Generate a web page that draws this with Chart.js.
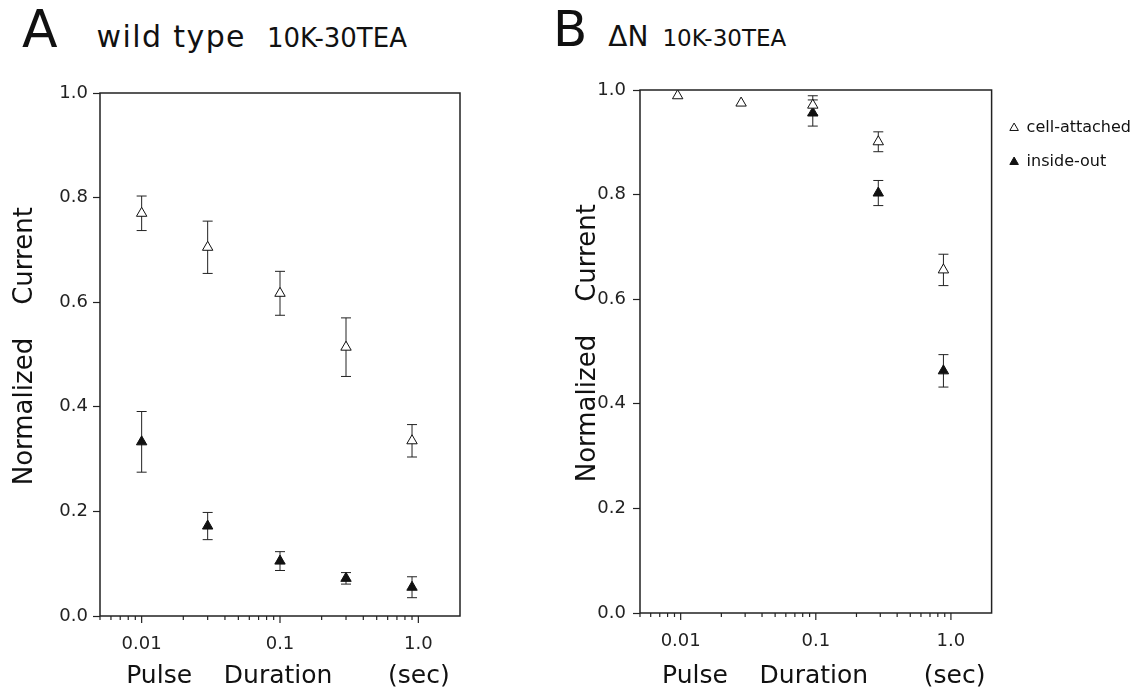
<!DOCTYPE html>
<html>
<head>
<meta charset="utf-8">
<script src="https://cdn.jsdelivr.net/npm/chart.js@4.4.1/dist/chart.umd.min.js"></script>
<style>
  body { margin: 0; background: #fff; width: 1141px; height: 693px; overflow: hidden; position: relative;
         font-family: "DejaVu Sans", sans-serif; color: #111; }
  canvas { position: absolute; top: 0; }
  .head { position: absolute; top: -1px; height: 60px; line-height: 60px; white-space: pre; }
</style>
</head>
<body>
<div class="head" style="left:22px;font-size:52px">A<span style="font-size:30px;letter-spacing:1.4px;margin-left:39px">wild type</span><span style="font-size:26px;margin-left:21px">10K-30TEA</span></div>
<div class="head" style="left:553px;font-size:50px">B<span style="font-size:28px;margin-left:21px">ΔN</span><span style="font-size:23px;margin-left:14px">10K-30TEA</span></div>
<canvas id="chartA" width="540" height="693" style="left:0"></canvas>
<canvas id="chartB" width="601" height="693" style="left:540px"></canvas>
<script>
// Panel A: wild type
const durationsA = [0.01, 0.03, 0.1, 0.3, 0.9];
const cellAttachedA = [0.77, 0.705, 0.617, 0.514, 0.335];
const cellAttachedErrA = [0.033, 0.05, 0.042, 0.056, 0.031];
const insideOutA = [0.333, 0.172, 0.105, 0.072, 0.055];
const insideOutErrA = [0.058, 0.026, 0.018, 0.011, 0.02];

// Panel B: delta N
const durationsB = [0.0095, 0.028, 0.095, 0.29, 0.88];
const cellAttachedB = [0.989, 0.975, 0.971, 0.901, 0.656];
const cellAttachedErrB = [0, 0, 0.018, 0.019, 0.03];
const durationsBio = [0.095, 0.29, 0.88];
const insideOutB = [0.956, 0.803, 0.463];
const insideOutErrB = [0.025, 0.024, 0.031];

const xTickValues = [0.005, 0.006, 0.007, 0.008, 0.009, 0.01, 0.02, 0.03, 0.04, 0.05, 0.06, 0.07, 0.08, 0.09,
  0.1, 0.2, 0.3, 0.4, 0.5, 0.6, 0.7, 0.8, 0.9, 1];
const xTickLabels = { 0.01: '0.01', 0.1: '0.1', 1: '1.0' };
const yTickValues = [0, 0.2, 0.4, 0.6, 0.8, 1.0];

const family = '"DejaVu Sans", sans-serif';
const ink = '#111';

function points(xs, ys, errs) {
  return xs.map((x, i) => ({ x: x, y: ys[i], err: errs[i] }));
}

// error bars, frame and log ticks
const errorBarsPlugin = {
  id: 'errorBars',
  beforeDatasetsDraw(chart) {
    const { ctx, chartArea: a, scales: { x, y } } = chart;
    ctx.save();
    ctx.strokeStyle = '#222';
    ctx.lineWidth = 1;
    chart.data.datasets.forEach((ds) => {
      ds.data.forEach((p) => {
        if (!p.err) return;
        const px = x.getPixelForValue(p.x);
        const top = y.getPixelForValue(p.y + p.err);
        const bot = y.getPixelForValue(p.y - p.err);
        ctx.beginPath();
        ctx.moveTo(px, top); ctx.lineTo(px, bot);
        ctx.moveTo(px - 5, top); ctx.lineTo(px + 5, top);
        ctx.moveTo(px - 5, bot); ctx.lineTo(px + 5, bot);
        ctx.stroke();
      });
    });
    ctx.lineWidth = 1.5;
    ctx.strokeRect(a.left, a.top, a.width, a.height);
    ctx.lineWidth = 1.2;
    x.ticks.forEach((t) => {
      const px = x.getPixelForValue(t.value);
      const len = t.label ? 7 : 4;
      ctx.beginPath();
      ctx.moveTo(px, a.bottom); ctx.lineTo(px, a.bottom + len);
      ctx.stroke();
    });
    ctx.restore();
  }
};

function makeChart(id, datasets, opts) {
  return new Chart(document.getElementById(id).getContext('2d'), {
    type: 'scatter',
    data: { datasets: datasets },
    options: {
      responsive: false,
      animation: false,
      devicePixelRatio: 1,
      layout: { padding: opts.padding },
      plugins: {
        legend: opts.legend,
        tooltip: { enabled: false },
      },
      scales: {
        x: {
          type: 'logarithmic',
          min: 0.005,
          max: 2,
          afterBuildTicks: (scale) => { scale.ticks = xTickValues.map((v) => ({ value: v })); },
          afterFit: (scale) => { scale.height = opts.xHeight; },
          grid: { display: false },
          border: { display: false },
          ticks: {
            autoSkip: false, maxRotation: 0, padding: 10, color: '#222',
            font: { size: 18, family: family },
            callback: (v) => xTickLabels[v] || '',
          },
          title: {
            display: true,
            text: '  Pulse    Duration       (sec)',
            color: ink, font: { size: 25, family: family }, padding: { top: 0, bottom: 2 },
          },
        },
        y: {
          min: 0,
          max: 1,
          afterBuildTicks: (scale) => { scale.ticks = yTickValues.map((v) => ({ value: v })); },
          afterFit: (scale) => { scale.width = 100; },
          grid: { drawOnChartArea: false, tickLength: 7, color: '#222', tickWidth: 1.2 },
          border: { display: false },
          ticks: {
            padding: opts.yPad, color: '#222',
            font: { size: 18, family: family },
            callback: (v) => v.toFixed(1),
          },
          title: {
            display: true,
            text: '  Normalized    Current',
            color: ink, font: { size: 26, family: family }, padding: { top: opts.yTitlePad, bottom: 0 },
          },
        },
      },
    },
    plugins: [errorBarsPlugin],
  });
}

const openStyle = {
  pointStyle: 'triangle', pointRadius: 6, borderWidth: 1,
  borderColor: ink, backgroundColor: '#fff', pointBackgroundColor: '#fff', pointBorderColor: ink,
};
const filledStyle = {
  pointStyle: 'triangle', pointRadius: 6, borderWidth: 1,
  borderColor: ink, backgroundColor: ink, pointBackgroundColor: ink, pointBorderColor: ink,
};

makeChart('chartA', [
  { label: 'cell-attached', data: points(durationsA, cellAttachedA, cellAttachedErrA), ...openStyle },
  { label: 'inside-out', data: points(durationsA, insideOutA, insideOutErrA), ...filledStyle },
], {
  padding: { top: 93, right: 80, left: 0, bottom: 0 },
  xHeight: 77, yPad: 5, yTitlePad: 10,
  legend: { display: false },
});

makeChart('chartB', [
  { label: 'cell-attached', data: points(durationsB, cellAttachedB, cellAttachedErrB), ...openStyle },
  { label: 'inside-out', data: points(durationsBio, insideOutB, insideOutErrB), ...filledStyle },
], {
  padding: { top: 90, right: 0, left: 0, bottom: 0 },
  xHeight: 80, yPad: 7, yTitlePad: 33,
  legend: {
    display: true, position: 'right', align: 'start',
    title: { display: true, text: ' ', font: { size: 10 }, padding: 0 },
    labels: {
      usePointStyle: true, boxWidth: 9, boxHeight: 7, padding: 18,
      color: ink, font: { size: 16, family: family },
    },
  },
});
</script>
</body>
</html>
